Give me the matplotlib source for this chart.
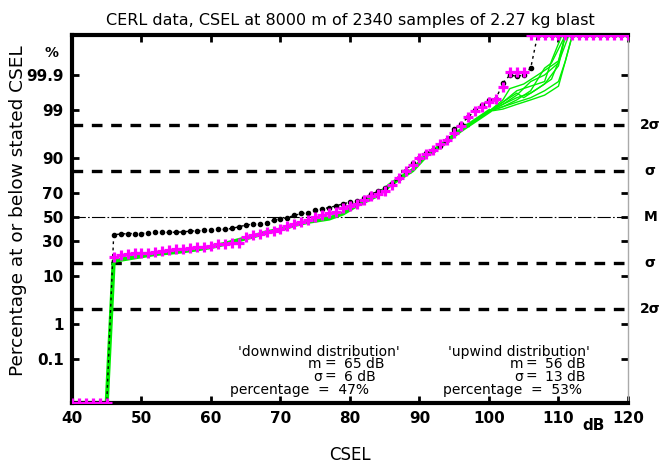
import math
import numpy as np
import matplotlib
matplotlib.use('Agg')
import matplotlib.pyplot as plt

# sound level bins, dB
db_levels = list(range(40, 121))

# measured cumulative percentages (magenta +)
upwind_pct = [0, 0, 0, 0, 0, 0,
              19.5, 20.3, 20.9, 21.5, 21.5, 22.1, 22.7, 23.0, 23.6, 24.2, 24.5, 25.1,
              25.8, 25.8, 26.8, 27.8, 27.8, 28.4, 28.8, 33.4, 34.8, 35.9, 37.4,
              38.2, 40.1, 42.1, 44.0, 45.6, 47.6, 50.0, 51.6, 53.2, 54.8, 57.9, 59.9,
              61.4, 64.4, 67.4, 69.5, 71.6, 75.8, 80.2, 84.4, 87.1, 90.0, 91.5,
              92.9, 94.4, 95.4, 96.6, 97.6, 98.5, 98.93, 99.18, 99.40, 99.49, 99.77,
              99.92, 99.92, 99.92,
              100, 100, 100, 100, 100, 100, 100, 100, 100, 100, 100, 100, 100, 100, 100]

# second measured set (black)
downwind_pct = [0, 0, 0, 0, 0, 0,
                35.3, 35.6, 36.1, 36.1, 36.1, 36.7, 37.0, 37.0, 37.0, 37.2, 37.4, 38.1,
                38.3, 38.6, 38.9, 39.5, 39.5, 40.3, 41.7, 43.1, 44.0, 44.0, 44.6,
                47.4, 48.5, 49.7, 51.5, 53.2, 53.7, 55.8, 57.1, 58.3, 59.7, 61.4, 62.8,
                63.8, 66.0, 69.1, 71.2, 73.8, 76.3, 80.3, 84.1, 88.1, 90.1, 91.9,
                92.8, 93.8, 95.3, 97.2, 97.9, 98.5, 99.0, 99.25, 99.45, 99.5, 99.82,
                99.90, 99.89, 99.90, 99.94,
                100, 100, 100, 100, 100, 100, 100, 100, 100, 100, 100, 100, 100, 100]

# simulated distributions (green): shared lower part + individual tails
sim_db = [40, 45, 46, 48, 50, 52, 55, 58, 60, 62, 64, 66, 68, 70, 72, 74, 77, 79,
          81, 84, 86, 89, 91, 93, 96, 98, 100]
sim_pct = [0, 0, 17.1, 18.4, 19.8, 21.2, 22.4, 24.2, 25.8, 28.1, 30.9, 33.7, 37.1,
           39.4, 43.3, 46.0, 48.8, 53.2, 60.3, 68.4, 76.7, 84.6, 91.1, 93.9, 97.1,
           98.2, 98.93]
tail_db = [
    [102, 104, 106, 108, 110, 111, 112, 120],
    [102, 104, 106, 108, 110, 111, 120],
    [102, 104, 106, 108, 109, 110.5, 120],
    [102, 103, 105, 107, 109, 110, 111, 120],
    [102, 104, 106, 108, 110, 111.5, 120],
    [102, 104, 106, 108, 109, 111, 120],
    [102, 104, 105, 107, 109, 110, 111, 120],
    [102, 104, 106, 108, 110, 111, 112, 120],
]
tail_pct = [
    [99.18, 99.38, 99.53, 99.70, 99.84, 99.966, 100, 100],
    [99.29, 99.53, 99.65, 99.81, 99.95, 100, 100],
    [99.38, 99.70, 99.78, 99.84, 99.966, 100, 100],
    [99.46, 99.74, 99.81, 99.90, 99.95, 99.966, 100, 100],
    [99.29, 99.60, 99.84, 99.90, 99.96, 100, 100],
    [99.18, 99.46, 99.70, 99.94, 99.96, 100, 100],
    [99.38, 99.65, 99.53, 99.74, 99.865, 99.964, 100, 100],
    [99.06, 99.29, 99.46, 99.60, 99.78, 99.966, 100, 100],
]

y_ticks = [0.1, 1, 10, 30, 50, 70, 90, 99, 99.9]
y_ticklabels = ['0.1', '1', '10', '30', '50', '70', '90', '99', '99.9']
x_ticks = [40, 50, 60, 70, 80, 90, 100, 110, 120]
sigma_lines = [2, 1, -1, -2]
sigma_labels = ['2σ', 'σ', 'σ', '2σ']

stats_left = [('m', '65 dB'), ('σ', '6 dB')]
stats_right = [('m', '56 dB'), ('σ', '13 dB')]
share_left = 'percentage  =  47%'
share_right = 'percentage  =  53%'

ZMIN, ZMAX = -4.04, 3.96


def probit(pct):
    # normal deviate for a cumulative percentage (bisection on erf)
    def one(p):
        p = p / 100.0
        if p <= 0:
            return ZMIN
        if p >= 1:
            return ZMAX
        lo, hi = -8.0, 8.0
        for _ in range(80):
            mid = 0.5 * (lo + hi)
            if 0.5 * (1 + math.erf(mid / math.sqrt(2))) < p:
                lo = mid
            else:
                hi = mid
        return min(max(0.5 * (lo + hi), ZMIN), ZMAX)
    return np.array([one(p) for p in pct])


fig = plt.figure(figsize=(6.66, 4.63), dpi=100)
ax = fig.add_axes([0.1081, 0.1296, 0.8348, 0.7948])

green = '#00ee00'
ax.plot(sim_db, probit(sim_pct), color=green, lw=3.0, zorder=2)
for tx, tp in zip(tail_db, tail_pct):
    ax.plot(sim_db + tx, probit(sim_pct + tp), color=green, lw=1.0, zorder=2)

ax.plot(db_levels, probit(downwind_pct), color='black', ls=(0, (2, 2.5)), lw=1.0,
        marker='o', ms=3, zorder=3)
ax.plot(db_levels, probit(upwind_pct), color='#ff00ff', ls='none',
        marker='+', ms=7.5, mew=2.3, zorder=4)

for z in sigma_lines:
    ax.axhline(z, color='black', lw=2.4, ls=(0, (3.2, 2.6)), zorder=1)
ax.axhline(0, color='black', lw=0.8, ls=(0, (12, 2, 1.5, 2)), zorder=1)

ax.set_xlim(40, 120)
ax.set_ylim(ZMIN, ZMAX)
ax.set_xticks(x_ticks)
ax.set_xticklabels([str(v) for v in x_ticks], fontsize=11, fontweight='bold')
ax.set_yticks(probit(y_ticks))
ax.set_yticklabels(y_ticklabels, fontsize=11, fontweight='bold')
ax.tick_params(direction='in', length=5, width=2, top=True, right=True, pad=6)

for side in ['left', 'bottom', 'top']:
    ax.spines[side].set_linewidth(3)
ax.spines['right'].set_linewidth(1)
ax.spines['right'].set_color('#aaaaaa')

xt = ax.get_xaxis_transform()
ax.text(115, -0.04, 'dB', transform=xt, ha='center', va='top',
        fontsize=11, fontweight='bold')
ax.text(-0.025, (3.57 - ZMIN) / (ZMAX - ZMIN), '%', transform=ax.transAxes,
        ha='right', va='center', fontsize=10, fontweight='bold')

yt = ax.get_yaxis_transform()
for z, lab in zip(sigma_lines, sigma_labels):
    ax.text(1.04, z, lab, transform=yt, ha='center', va='center',
            fontsize=10, fontweight='bold')
ax.text(1.04, 0, 'M', transform=yt, ha='center', va='center',
        fontsize=10, fontweight='bold')

# statistics of the two fitted distributions
fs = 10
ax.text(0.298, 0.139, "'downwind distribution'", transform=ax.transAxes,
        ha='left', va='center', fontsize=fs)
ax.text(0.677, 0.139, "'upwind distribution'", transform=ax.transAxes,
        ha='left', va='center', fontsize=fs)
rows_y = [0.105, 0.070]
for (lab, val), y in zip(stats_left, rows_y):
    ax.text(0.449, y, lab, transform=ax.transAxes, ha='right', va='center', fontsize=fs)
    ax.text(0.464, y, '=', transform=ax.transAxes, ha='center', va='center', fontsize=fs)
    ax.text(0.49, y, val, transform=ax.transAxes, ha='left', va='center', fontsize=fs)
for (lab, val), y in zip(stats_right, rows_y):
    ax.text(0.812, y, lab, transform=ax.transAxes, ha='right', va='center', fontsize=fs)
    ax.text(0.827, y, '=', transform=ax.transAxes, ha='center', va='center', fontsize=fs)
    ax.text(0.851, y, val, transform=ax.transAxes, ha='left', va='center', fontsize=fs)
ax.text(0.284, 0.034, share_left, transform=ax.transAxes, ha='left', va='center', fontsize=fs)
ax.text(0.668, 0.034, share_right, transform=ax.transAxes, ha='left', va='center', fontsize=fs)

ax.set_title('CERL data, CSEL at 8000 m of 2340 samples of 2.27 kg blast',
             fontsize=11.5, pad=7)
ax.set_xlabel('CSEL', fontsize=12, labelpad=14)
fig.text(0.027, 0.545, 'Percentage at or below stated CSEL', rotation=90,
         ha='center', va='center', fontsize=13.3)

fig.savefig('out.png', dpi=100)
